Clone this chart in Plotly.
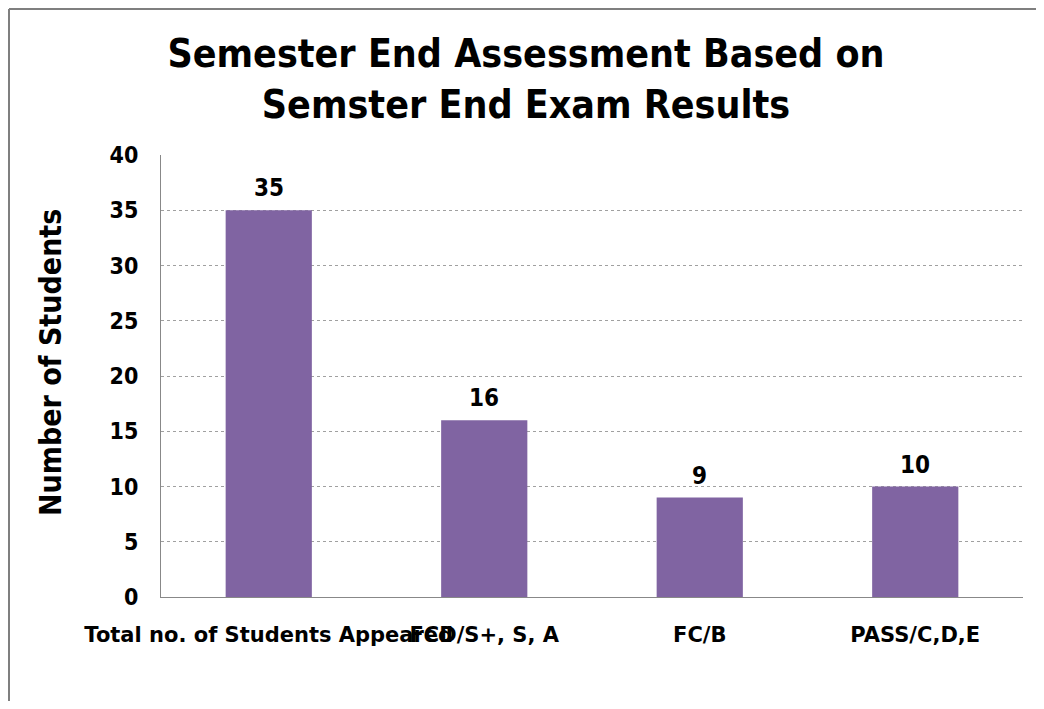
import plotly.graph_objects as go

categories = ["Total no. of Students Appeared", "FCD/S+, S, A", "FC/B", "PASS/C,D,E"]
students = [35, 16, 9, 10]
y_ticks = [0, 5, 10, 15, 20, 25, 30, 35, 40]

# page has an 8px body margin; figure sits at (8, 8) in the window
OFF = 8
W, H = 1044 - OFF, 709 - 2 * OFF
L, T = 161 - OFF, 155 - OFF
R = W - (1023 - OFF)
B = H - (597 - OFF)
pw, ph = W - L - R, H - T - B

def px_x(p):
    return (p - OFF - L) / pw

def px_y(p):
    return (H - B - (p - OFF)) / ph

FONT = "DejaVu Sans Condensed, DejaVu Sans"
FRAME = dict(color="#7f7f7f", width=2)

fig = go.Figure()
fig.add_trace(go.Bar(
    x=categories, y=students,
    marker=dict(color="#8064A2", line=dict(width=0)),
    hoverinfo="x+y",
))

for c, v in zip(categories, students):
    fig.add_annotation(x=c, y=v, text=f"<b>{v}</b>", showarrow=False,
                       yanchor="bottom", yshift=6,
                       font=dict(family=FONT, size=24, color="black"))

fig.add_annotation(xref="paper", yref="paper", x=px_x(50), y=px_y(363),
                   text="<b>Number of Students</b>", textangle=-90, showarrow=False,
                   xanchor="center", yanchor="middle",
                   font=dict(family=FONT, size=30, color="black"))

fig.update_layout(
    width=W, height=H,
    margin=dict(l=L, r=R, t=T, b=B),
    paper_bgcolor="white", plot_bgcolor="white",
    bargap=0.6, showlegend=False,
    title=dict(
        text="<b>Semester End Assessment Based on<br>Semster End Exam Results</b>",
        x=0.5, xanchor="center", y=1 - (67 - OFF) / H, yanchor="middle",
        font=dict(family=FONT, size=39, color="black"),
    ),
    xaxis=dict(
        tickangle=0, showgrid=False, showline=True, linecolor="#888888", linewidth=1,
        ticks="", tickfont=dict(family="DejaVu Sans", size=21, color="black", weight="bold"),
        ticklabelstandoff=19,
    ),
    yaxis=dict(
        range=[0, 40], tickvals=y_ticks, showline=True, linecolor="#888888", linewidth=1,
        ticks="", gridcolor="#a0a0a0", griddash="dot", gridwidth=1,
        tickfont=dict(family=FONT, size=23, color="black", weight="bold"),
        ticklabelstandoff=17, zeroline=False,
    ),
    shapes=[
        dict(type="line", xref="paper", yref="paper",
             x0=px_x(9), x1=px_x(1100), y0=px_y(9), y1=px_y(9), line=FRAME, layer="below"),
        dict(type="line", xref="paper", yref="paper",
             x0=px_x(9), x1=px_x(9), y0=px_y(9), y1=px_y(760), line=FRAME, layer="below"),
    ],
)

fig.write_html("out.html")
